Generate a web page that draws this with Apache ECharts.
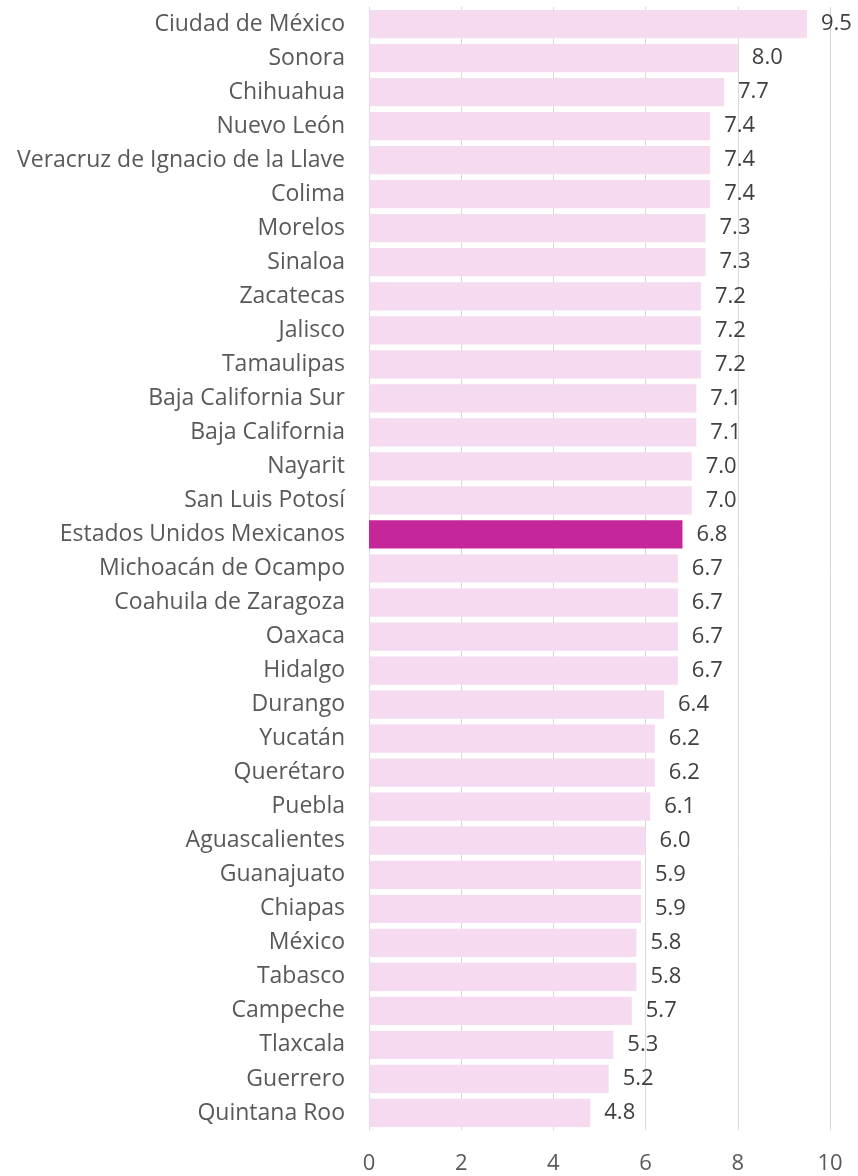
<!DOCTYPE html>
<html>
<head>
<meta charset="utf-8">
<script src="https://cdn.jsdelivr.net/npm/echarts@6/dist/echarts.min.js"></script>
<style>
  html, body { margin: 0; padding: 0; background: #fff; }
  #chart { width: 858px; height: 1176px; }
</style>
</head>
<body>
<div id="chart"></div>
<script>
// estados, de arriba hacia abajo
const states = [
    "Ciudad de México", "Sonora", "Chihuahua", "Nuevo León",
    "Veracruz de Ignacio de la Llave", "Colima", "Morelos", "Sinaloa",
    "Zacatecas", "Jalisco", "Tamaulipas", "Baja California Sur",
    "Baja California", "Nayarit", "San Luis Potosí", "Estados Unidos Mexicanos",
    "Michoacán de Ocampo", "Coahuila de Zaragoza", "Oaxaca", "Hidalgo",
    "Durango", "Yucatán", "Querétaro", "Puebla", "Aguascalientes",
    "Guanajuato", "Chiapas", "México", "Tabasco", "Campeche",
    "Tlaxcala", "Guerrero", "Quintana Roo"
];

const values = [
    9.5, 8.0, 7.7, 7.4, 7.4, 7.4, 7.3, 7.3, 7.2, 7.2, 7.2, 7.1, 7.1, 7.0, 7.0, 6.8,
    6.7, 6.7, 6.7, 6.7, 6.4, 6.2, 6.2, 6.1, 6.0, 5.9, 5.9, 5.8, 5.8, 5.7, 5.3, 5.2, 4.8
];

const xTicks = [0, 2, 4, 6, 8, 10];

const highlight = "Estados Unidos Mexicanos";

const font = "'Open Sans', sans-serif";

const chart = echarts.init(document.getElementById("chart"));

chart.setOption({
    animation: false,
    grid: { left: 369, right: 28, top: 7, bottom: 46 },
    xAxis: {
        type: "value",
        min: xTicks[0],
        max: xTicks[xTicks.length - 1],
        interval: 2,
        axisLine: { show: false },
        axisTick: { show: false },
        axisLabel: { margin: 23, fontSize: 22, color: "#595959", fontFamily: font },
        splitLine: { lineStyle: { color: "#d9d9d9", width: 1 } }
    },
    yAxis: {
        type: "category",
        inverse: true,
        data: states,
        axisLine: { show: true, lineStyle: { color: "#d9d9d9" } },
        axisTick: { show: false },
        axisLabel: { margin: 24, fontSize: 23, color: "#595959", fontFamily: font }
    },
    series: [{
        type: "bar",
        barCategoryGap: "17%",
        data: values.map((v, i) => ({
            value: v,
            itemStyle: {
                color: states[i] === highlight ? "#c5279b" : "#f6daf0"
            }
        })),
        label: {
            show: true,
            position: "right",
            distance: 14,
            formatter: p => p.value.toFixed(1),
            fontSize: 22,
            color: "#404040",
            fontFamily: font
        }
    }]
});
</script>
</body>
</html>
